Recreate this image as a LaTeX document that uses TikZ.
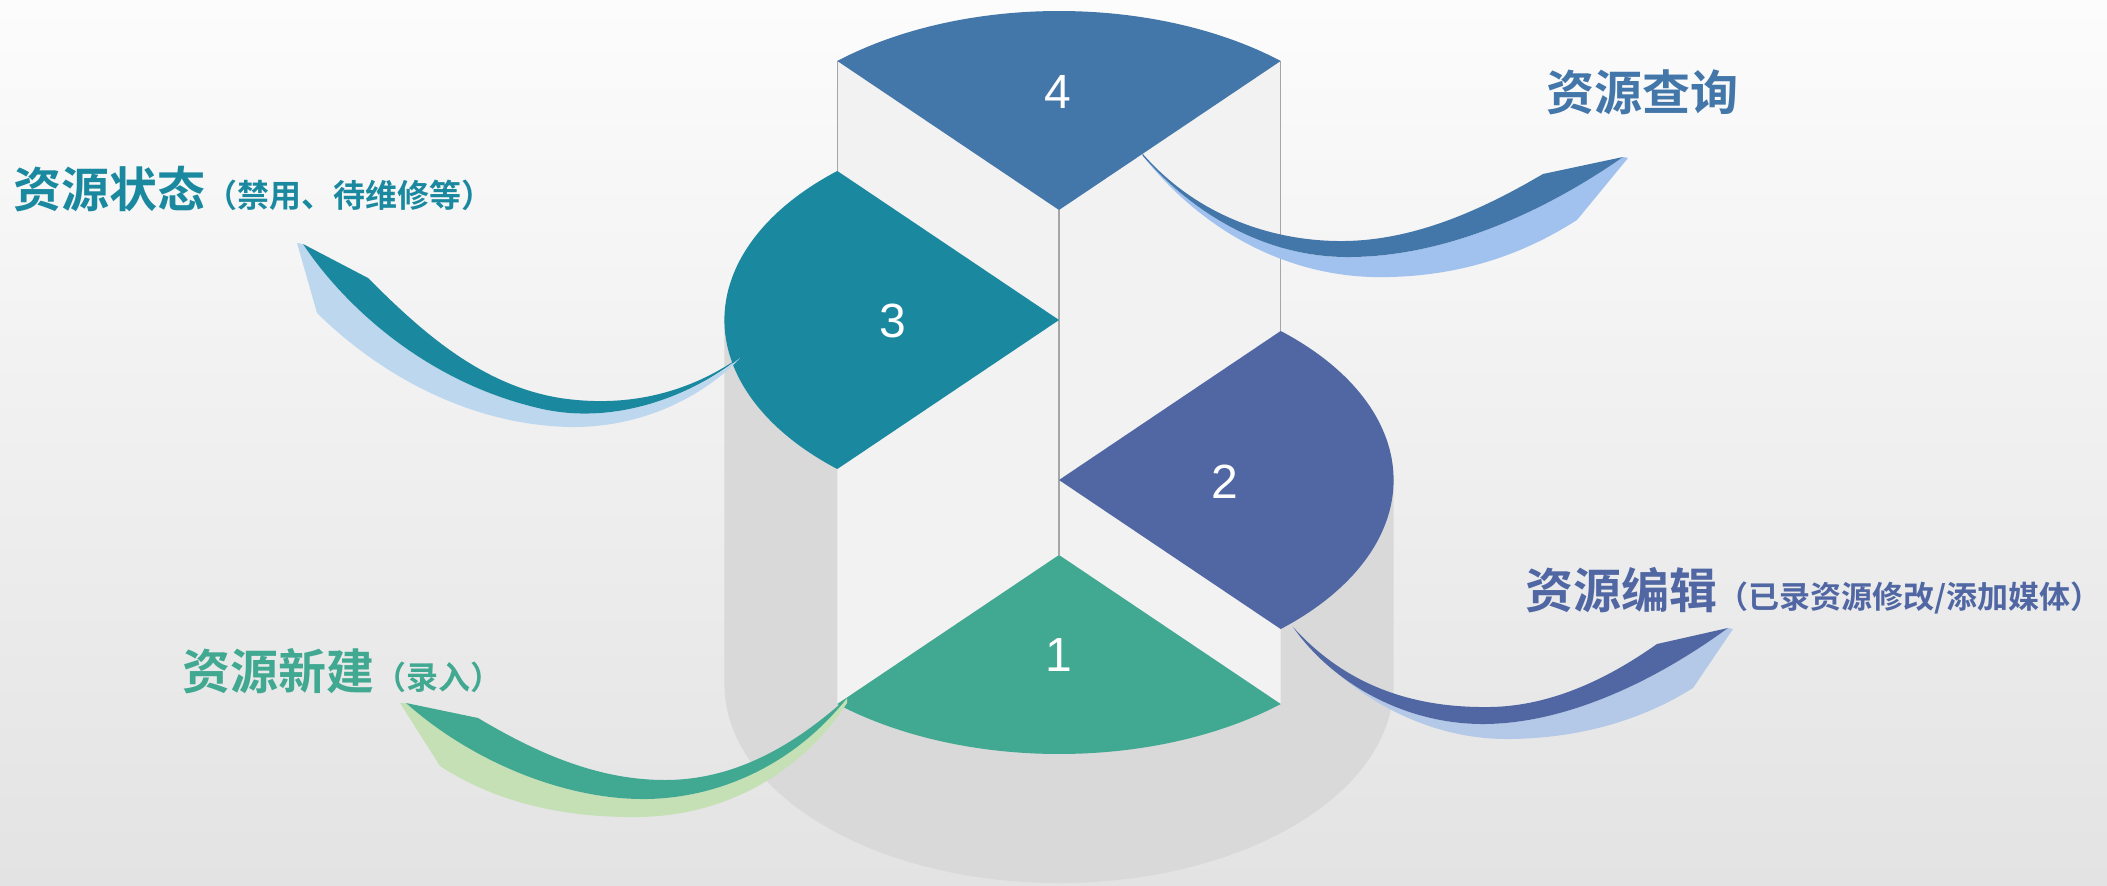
\documentclass[tikz,border=0pt]{standalone}
\usepackage{fontspec}
\setmainfont{Liberation Sans}
\newfontfamily\cjkb{Noto Sans CJK SC Bold}
\definecolor{cA}{HTML}{4376A9}
\definecolor{cAl}{HTML}{A1C2EE}
\definecolor{cB}{HTML}{1A89A0}
\definecolor{cBl}{HTML}{BDD7EE}
\definecolor{cC}{HTML}{5067A3}
\definecolor{cCl}{HTML}{B4C8E8}
\definecolor{cD}{HTML}{41A891}
\definecolor{cDl}{HTML}{C5E0B4}
\definecolor{panelc}{HTML}{F2F2F2}
\definecolor{bodyc}{HTML}{D9D9D9}
\definecolor{linec}{HTML}{A6A6A6}
\definecolor{bgtop}{HTML}{FCFCFC}
\definecolor{bgbot}{HTML}{E3E3E3}
\begin{document}
\begin{tikzpicture}[x=1pt,y=-1pt,
  edge/.style={draw=linec, line width=1.5pt},
  num/.style={text=white, font=\fontsize{48}{48}\selectfont, inner sep=0pt},
  ttl/.style={anchor=base west, inner sep=0pt, font=\cjkb}]
\useasboundingbox (0,0) rectangle (2107,886);
\shade[top color=bgtop, bottom color=bgbot] (0,0) rectangle (2107,886);
% centres of the elliptic sectors
\coordinate (c4) at (1059,210);
\coordinate (c3) at (1059,320);
\coordinate (c2) at (1059,480);
\coordinate (c1) at (1059,555);
% cylinder body
\fill[bodyc] (724.4,320) -- (724.4,684) arc[start angle=180, end angle=0, x radius=334.6, y radius=199] -- (1393.6,480) -- (c2) -- (c3) -- cycle;
% light panel
\fill[panelc] (837.3,61) -- (c4) -- (1280.7,61) -- (1280.7,704) -- (c1) -- (837.3,704) -- cycle;
\draw[edge] (837.3,61) -- (837.3,171);
\draw[edge] (1280.7,61) -- (1280.7,331);
\draw[edge] (c4) -- (c1);
% wedges
\fill[cA] (c4) -- +(228.5:334.6 and 199) arc[start angle=228.5, end angle=311.5, x radius=334.6, y radius=199] -- cycle;
\fill[cB] (c3) -- +(131.5:334.6 and 199) arc[start angle=131.5, end angle=228.5, x radius=334.6, y radius=199] -- cycle;
\fill[cC] (c2) -- +(-48.5:334.6 and 199) arc[start angle=-48.5, end angle=48.5, x radius=334.6, y radius=199] -- cycle;
\fill[cD] (c1) -- +(48.5:334.6 and 199) arc[start angle=48.5, end angle=131.5, x radius=334.6, y radius=199] -- cycle;
% ribbon 4
\fill[cAl] (1142,155) .. controls (1210,240) and (1300,280) .. (1390,277) .. controls (1470,275) and (1530,250) .. (1577,220)
  -- (1628,158) -- (1623,157) .. controls (1540,215) and (1440,258) .. (1345,257) .. controls (1260,256) and (1190,210) .. (1143,156) -- cycle;
\fill[cA] (1142,153) .. controls (1200,220) and (1280,242) .. (1345,241) .. controls (1420,240) and (1490,205) .. (1543,174)
  -- (1623,157) .. controls (1540,215) and (1440,258) .. (1345,257) .. controls (1260,256) and (1190,210) .. (1143,156) -- cycle;
% ribbon 3
\fill[cBl] (297,243) -- (317,313) .. controls (380,375) and (470,425) .. (570,427) .. controls (650,428) and (710,390) .. (740,358)
  .. controls (700,390) and (620,428) .. (538,408) .. controls (420,380) and (340,300) .. (303,244) -- cycle;
\fill[cB] (303,244) -- (368,278) .. controls (420,330) and (480,385) .. (560,398) .. controls (640,410) and (700,385) .. (740,357)
  .. controls (700,390) and (620,428) .. (538,408) .. controls (420,380) and (340,300) .. (303,244) -- cycle;
% ribbon 2
\fill[cCl] (1292,626) .. controls (1350,700) and (1430,740) .. (1510,739) .. controls (1590,738) and (1650,715) .. (1693,688)
  -- (1733,629) -- (1728,628) .. controls (1650,685) and (1560,725) .. (1480,724) .. controls (1400,723) and (1330,680) .. (1293,627) -- cycle;
\fill[cC] (1293,627) .. controls (1350,690) and (1420,708) .. (1490,707) .. controls (1560,706) and (1620,670) .. (1657,644)
  -- (1728,628) .. controls (1650,685) and (1560,725) .. (1480,724) .. controls (1400,723) and (1330,680) .. (1293,627) -- cycle;
% ribbon 1
\fill[cDl] (400,703) -- (440,766) .. controls (500,805) and (570,818) .. (640,817) .. controls (740,815) and (810,760) .. (847,703)
  -- (847,698) .. controls (790,770) and (710,800) .. (640,799) .. controls (560,798) and (470,760) .. (406,703) -- cycle;
\fill[cD] (406,703) -- (478,718) .. controls (540,755) and (600,780) .. (665,780) .. controls (740,780) and (800,740) .. (847,698)
  .. controls (790,770) and (710,800) .. (640,799) .. controls (560,798) and (470,760) .. (406,703) -- cycle;
% numbers
\node[num] (n4) at (1058,92) {4};
\node[num] (n3) at (893,321) {3};
\node[num] (n2) at (1225,482) {2};
\node[num] (n1) at (1059,655) {1};
% titles
\node[ttl, text=cA] (t4) at (1546.5,110) {\fontsize{48}{58}\selectfont 资源查询};
\node[ttl, text=cB] (t3) at (13.5,207) {\fontsize{48}{58}\selectfont 资源状态\fontsize{32}{38}\selectfont （禁用、待维修等）};
\node[ttl, text=cC] (t2) at (1525,608) {\fontsize{48}{58}\selectfont 资源编辑\fontsize{31}{38}\selectfont （已录资源修改/添加媒体）};
\node[ttl, text=cD] (t1) at (182.5,689) {\fontsize{48}{58}\selectfont 资源新建\fontsize{32}{38}\selectfont （录入）};
\end{tikzpicture}
\end{document}
